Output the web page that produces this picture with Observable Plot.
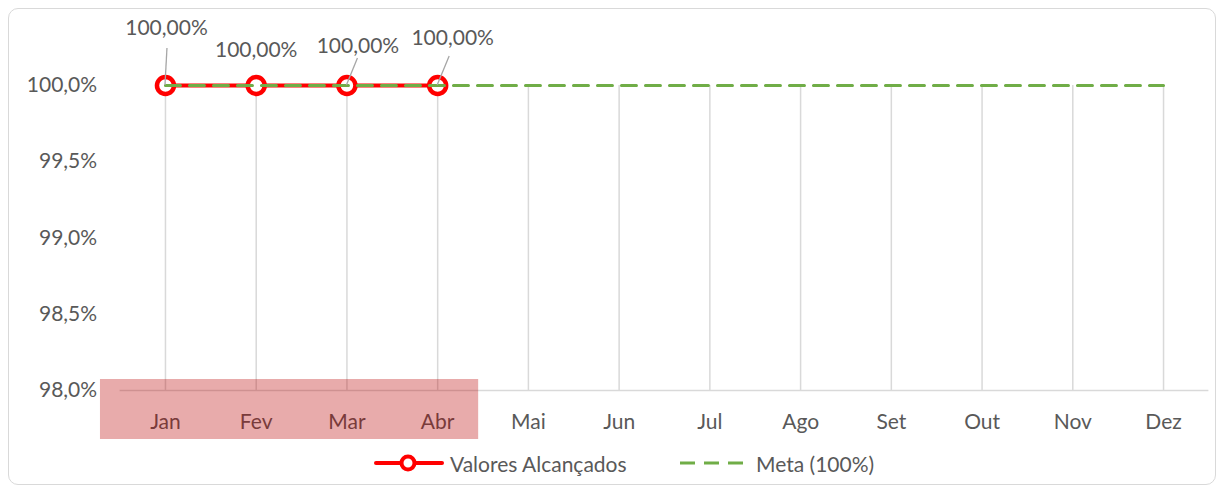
<!DOCTYPE html>
<html>
<head>
<meta charset="utf-8">
<script src="https://cdn.jsdelivr.net/npm/d3@7"></script>
<script src="https://cdn.jsdelivr.net/npm/@observablehq/plot@0.6"></script>
<style>
  html, body { margin: 0; padding: 0; background: #fff; }
  body { width: 1225px; height: 493px; position: relative; overflow: hidden; font-family: Lato, "Open Sans", sans-serif; }
  #frame { position: absolute; left: 8px; top: 8px; width: 1208px; height: 477px; border: 1.5px solid #d9d9d9; border-radius: 10px; box-sizing: border-box; }
  #chart { position: absolute; left: 0; top: 0; }
  #legend { position: absolute; top: 450px; left: 0; width: 1225px; height: 26px; font-size: 21px; color: #595959; }
  .item { position: absolute; top: 0; display: flex; align-items: center; height: 26px; }
  .item svg { margin-right: 6px; }
</style>
</head>
<body>
<div id="frame"></div>
<div id="chart"></div>
<div id="legend">
  <div class="item" style="left:374px">
    <svg width="70" height="22"><line x1="2" y1="11" x2="68" y2="11" stroke="#FF0000" stroke-width="4" stroke-linecap="round"/><circle cx="34" cy="11" r="6.5" fill="#fff" stroke="#FF0000" stroke-width="4"/></svg>
    <span>Valores Alcançados</span>
  </div>
  <div class="item" style="left:680px">
    <svg width="70" height="22"><line x1="0" y1="11" x2="68" y2="11" stroke="#70AD47" stroke-width="3" stroke-dasharray="15,9"/></svg>
    <span>Meta (100%)</span>
  </div>
</div>
<script>
const months = ["Jan","Fev","Mar","Abr","Mai","Jun","Jul","Ago","Set","Out","Nov","Dez"];
const valores = [100, 100, 100, 100, null, null, null, null, null, null, null, null];
const meta = [100, 100, 100, 100, 100, 100, 100, 100, 100, 100, 100, 100];
const yTicks = [98, 98.5, 99, 99.5, 100];
const highlighted = ["Jan","Fev","Mar","Abr"];

const valData = months.map((m, i) => ({month: m, value: valores[i]})).filter(d => d.value != null);
const metaData = months.map((m, i) => ({month: m, value: meta[i]}));

const gray = "#595959";
const fmtLabel = v => v.toFixed(2).replace(".", ",") + "%";

// label placement (offsets in px relative to the data point)
const labelPos = [
  {dx: 1, dy: -57, leader: [2, -37]},
  {dx: 0, dy: -35, leader: null},
  {dx: 11, dy: -39, leader: [11, -27]},
  {dx: 15, dy: -47, leader: [12, -29]}
];

const leaders = (index, scales) => {
  const g = d3.create("svg:g");
  valData.forEach((d, i) => {
    const p = labelPos[i];
    if (!p || !p.leader) return;
    const x = scales.x(d.month), y = scales.y(d.value);
    g.append("line")
      .attr("x1", x + p.leader[0]).attr("y1", y + p.leader[1])
      .attr("x2", x).attr("y2", y)
      .attr("stroke", "#a6a6a6").attr("stroke-width", 1.3);
  });
  return g.node();
};

const highlight = (index, scales) => {
  const x0 = scales.x(highlighted[0]) - 65;
  const x1 = scales.x(highlighted[highlighted.length - 1]) + 41;
  const y0 = scales.y(98) - 11;
  return d3.create("svg:rect")
    .attr("x", x0).attr("y", y0).attr("width", x1 - x0).attr("height", 60)
    .attr("fill", "rgb(185,0,0)").attr("fill-opacity", 0.33).node();
};

const chart = Plot.plot({
  width: 1225,
  height: 445,
  marginLeft: 119.6,
  marginRight: 16.6,
  marginTop: 85,
  marginBottom: 55,
  style: {fontFamily: "Lato, 'Open Sans', sans-serif", fontSize: "21px", color: gray, background: "transparent", overflow: "visible"},
  x: {type: "point", domain: months, padding: 0.5, round: false, label: null},
  y: {domain: [98, 100], label: null},
  marks: [
    Plot.ruleX(months, {x: d => d, y1: 98, y2: 100, stroke: "#d9d9d9", strokeWidth: 1.5}),
    Plot.ruleY([98], {stroke: "#d9d9d9", strokeWidth: 1.5}),
    Plot.axisY({ticks: yTicks, tickFormat: d => d.toFixed(1).replace(".", ",") + "%", tickSize: 0, tickPadding: 23, fill: gray, fontSize: 21}),
    Plot.axisX({tickSize: 0, tickPadding: 24, fill: gray, fontSize: 21}),
    Plot.line(valData, {x: "month", y: "value", stroke: "#FF0000", strokeWidth: 4}),
    Plot.dot(valData, {x: "month", y: "value", r: 8.5, stroke: "#FF0000", strokeWidth: 4.5, fill: "#fff"}),
    Plot.line(metaData, {x: "month", y: "value", stroke: "#70AD47", strokeWidth: 3, strokeDasharray: "15,9"}),
    leaders,
    ...valData.map((d, i) => Plot.text([d], {x: "month", y: "value", text: r => fmtLabel(r.value), dx: labelPos[i].dx, dy: labelPos[i].dy, fill: gray, fontSize: 21})),
    highlight
  ]
});
document.getElementById("chart").appendChild(chart);
</script>
</body>
</html>
